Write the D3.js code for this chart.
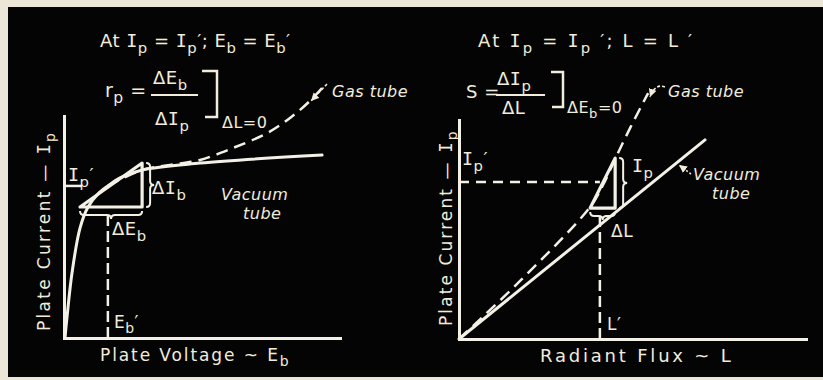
<!DOCTYPE html>
<html><head><meta charset="utf-8">
<script src="https://cdn.jsdelivr.net/npm/d3@7"></script>
<style>html,body{margin:0;padding:0;background:#ece6d8;} svg{display:block}</style>
</head><body><svg id="chart" width="823" height="380"></svg>
<script>
// ---- Left panel: plate current vs plate voltage (arbitrary units) ----
const vacuumEb   = [0.4, 1.1, 2.9, 5.8, 8.7, 12.3, 15.9, 20.3, 28.3, 49.3, 93.5];
const vacuumIpEb = [0.5, 9.5, 29.3, 49.5, 59.0, 64.9, 68.5, 72.1, 75.7, 78.8, 82.4];
const gasEb      = [15.9, 28.3, 38.4, 49.3, 61.2, 73.6, 81.9, 89.1, 93.5];
const gasIpEb    = [68.5, 75.7, 77.9, 80.2, 85.6, 92.3, 99.1, 106.8, 112.6];
const opEb = 15.9, opIpEb = 68.5;            // operating point Eb', Ip'
const triEb = [5.8, 28.3], triIpEb = [59.0, 78.8];

// ---- Right panel: plate current vs radiant flux ----
const vacuumL   = [0, 70.9];
const vacuumIpL = [0, 90.9];
const gasL      = [0, 17.6, 37.8, 41.5, 45.0, 49.3, 54.5];
const gasIpL    = [0, 26.5, 60.3, 70.3, 82.2, 96.3, 112.3];
const opL = 40.6, opIpL = 71.7;              // operating point L', Ip'
const triL = [37.8, 45.0], triIpL = [59.8, 82.6];

const ink = "#f3f0e6", txt = "#f2ecda";
const FONT = "'DejaVu Sans', sans-serif";
const SERIF_I = "'DejaVu Sans Mono', monospace";   // lettered capital I with bars

const svg = d3.select("#chart");
svg.append("rect").attr("x", 8).attr("y", 7).attr("width", 815).attr("height", 370).attr("fill", "#040404");

const defs = svg.append("defs");
defs.append("marker").attr("id", "arr").attr("markerUnits", "userSpaceOnUse")
  .attr("markerWidth", 10).attr("markerHeight", 10).attr("refX", 8).attr("refY", 4)
  .attr("orient", "auto")
  .append("path").attr("d", "M0,0 L8,4 L0,8 Z").attr("fill", txt);

// Text with sub/superscripts: parts are strings or [string, "sub"|"sup"]
function rich(g, x, y, parts, o = {}) {
  const size = o.size || 18;
  const t = g.append("text").attr("x", x).attr("y", y)
    .attr("font-family", FONT).attr("font-size", size).attr("fill", txt)
    .attr("font-style", o.italic ? "italic" : "normal")
    .attr("letter-spacing", o.ls || 0.5)
    .attr("text-anchor", o.anchor || "start");
  if (o.transform) t.attr("transform", o.transform);
  let cur = 0;
  parts.forEach(p => {
    const [s, kind] = Array.isArray(p) ? p : [p, null];
    const off = kind === "sub" ? 0.32 * size : kind === "sup" ? -0.4 * size : 0;
    const segs = o.italic ? [s] : s.split(/(I)/).filter(d => d.length);
    segs.forEach((seg, i) => {
      const ts = t.append("tspan").attr("dy", i === 0 ? off - cur : 0)
        .attr("font-size", kind ? size * 0.82 : size).text(seg);
      if (seg === "I") ts.attr("font-family", SERIF_I).attr("font-size", size * 1.02);
    });
    cur = off;
  });
  return t;
}

// Curly braces
function vBrace(x, y1, y2, w) {
  const ym = (y1 + y2) / 2, h = w / 2;
  return `M${x},${y1} Q${x + h},${y1} ${x + h},${y1 + h} L${x + h},${ym - h} Q${x + h},${ym} ${x + w},${ym}` +
         ` Q${x + h},${ym} ${x + h},${ym + h} L${x + h},${y2 - h} Q${x + h},${y2} ${x},${y2}`;
}
function hBrace(x1, x2, y, w) {
  const xm = (x1 + x2) / 2, h = w / 2;
  return `M${x1},${y} Q${x1},${y + h} ${x1 + h},${y + h} L${xm - h},${y + h} Q${xm},${y + h} ${xm},${y + w}` +
         ` Q${xm},${y + h} ${xm + h},${y + h} L${x2 - h},${y + h} Q${x2},${y + h} ${x2},${y}`;
}

function panel(cfg) {
  const g = svg.append("g");
  const x = d3.scaleLinear([0, 100], cfg.xr);
  const y = d3.scaleLinear([0, 100], cfg.yr);

  // axes: bare lines, no ticks
  const ax = g.append("g").attr("transform", `translate(${cfg.xr[0]},0)`)
    .call(d3.axisLeft(y).tickValues([]).tickSizeOuter(0));
  const bx = g.append("g").attr("transform", `translate(0,${cfg.yr[0]})`)
    .call(d3.axisBottom(x).tickValues([]).tickSizeOuter(0));
  [ax, bx].forEach(a => a.select(".domain").attr("stroke", ink).attr("stroke-width", 3).attr("stroke-linecap", "square"));

  const line = d3.line().x(d => x(d[0])).y(d => y(d[1]));

  // reference dashes at the operating point
  g.append("path").attr("d", line([[0, cfg.opY], [cfg.opX, cfg.opY]]))
    .attr("fill", "none").attr("stroke", ink).attr("stroke-width", 2.5).attr("stroke-dasharray", cfg.hDash);
  g.append("path").attr("d", line([[cfg.opX, 0], [cfg.opX, cfg.vTop]]))
    .attr("fill", "none").attr("stroke", ink).attr("stroke-width", 2.5).attr("stroke-dasharray", "11,5");

  // vacuum tube (solid) and gas tube (dashed)
  const vac = d3.zip(cfg.vx, cfg.vy);
  g.append("path").attr("d", line.curve(cfg.vCurve)(vac))
    .attr("fill", "none").attr("stroke", ink).attr("stroke-width", 3).attr("stroke-linecap", "round");
  const gas = d3.zip(cfg.gx, cfg.gy);
  g.append("path").attr("d", line.curve(d3.curveCatmullRom.alpha(0.5))(gas))
    .attr("fill", "none").attr("stroke", ink).attr("stroke-width", 2.5).attr("stroke-dasharray", "12,7");

  // increment triangle
  const [tx0, tx1] = cfg.tx, [ty0, ty1] = cfg.ty;
  g.append("path").attr("d", d3.line().x(d => x(d[0])).y(d => y(d[1]))([[tx0, ty0], [tx1, ty0], [tx1, ty1]]) + "Z")
    .attr("fill", "none").attr("stroke", ink).attr("stroke-width", 3.2).attr("stroke-linejoin", "round");
  g.append("path").attr("d", vBrace(x(tx1) + 4, y(ty1), y(ty0), 8))
    .attr("fill", "none").attr("stroke", ink).attr("stroke-width", 2);
  g.append("path").attr("d", hBrace(x(tx0), x(tx1), y(ty0) + 4, 8))
    .attr("fill", "none").attr("stroke", ink).attr("stroke-width", 2);
  return { g, x, y };
}

// ---------------- Left panel ----------------
const L = panel({
  xr: [64, 340], yr: [338, 116],
  vx: vacuumEb, vy: vacuumIpEb, vCurve: d3.curveCatmullRom.alpha(0.5),
  gx: gasEb, gy: gasIpEb,
  opX: opEb, opY: opIpEb, vTop: 57, hDash: "18,60",
  tx: triEb, ty: triIpEb
});
rich(L.g, 100, 47, ["At  I", ["p", "sub"], " = I", ["p", "sub"], "′;  E", ["b", "sub"], " = E", ["b", "sub"], "′"], { size: 18 });
rich(L.g, 105, 97, ["r", ["p", "sub"], " ="], { size: 19 });
rich(L.g, 153, 84, ["ΔE", ["b", "sub"]], { size: 18 });
L.g.append("line").attr("x1", 151).attr("x2", 198).attr("y1", 95).attr("y2", 95).attr("stroke", txt).attr("stroke-width", 2);
rich(L.g, 155, 125, ["ΔI", ["p", "sub"]], { size: 18 });
L.g.append("path").attr("d", "M202,71 H217 V117 H205").attr("fill", "none").attr("stroke", txt).attr("stroke-width", 2.5);
rich(L.g, 222, 128, ["ΔL=0"], { size: 16 });
rich(L.g, 68, 181, ["I", ["p", "sub"], "′"], { size: 18 });
rich(L.g, 152, 194, ["ΔI", ["b", "sub"]], { size: 18 });
rich(L.g, 112, 235, ["ΔE", ["b", "sub"]], { size: 18 });
rich(L.g, 114, 328, ["E", ["b", "sub"], "′"], { size: 17 });
rich(L.g, 332, 97, ["Gas tube"], { size: 16, italic: true });
L.g.append("path").attr("d", "M327,84 L311,101").attr("fill", "none").attr("stroke", txt)
  .attr("stroke-width", 1.6).attr("stroke-dasharray", "3,2").attr("marker-end", "url(#arr)");
rich(L.g, 221, 200, ["Vacuum"], { size: 16, italic: true });
rich(L.g, 243, 219, ["tube"], { size: 16, italic: true });
rich(L.g, 50, 331, ["Plate Current — I", ["p", "sub"]], { size: 17, ls: 2.3, transform: "rotate(-90 50 331)" });
rich(L.g, 100, 361, ["Plate Voltage ~ E", ["b", "sub"]], { size: 17, ls: 1.9 });

// ---------------- Right panel ----------------
const R = panel({
  xr: [459, 806], yr: [339, 120],
  vx: vacuumL, vy: vacuumIpL, vCurve: d3.curveLinear,
  gx: gasL, gy: gasIpL,
  opX: opL, opY: opIpL, vTop: 56, hDash: "10,7",
  tx: triL, ty: triIpL
});
rich(R.g, 478, 47, ["At  I", ["p", "sub"], " = I", ["p", "sub"], " ′;  L = L ′"], { size: 18, ls: 2.2 });
rich(R.g, 466, 98, ["S ="], { size: 18 });
rich(R.g, 497, 85, ["ΔI", ["p", "sub"]], { size: 18 });
R.g.append("line").attr("x1", 496).attr("x2", 545).attr("y1", 95).attr("y2", 95).attr("stroke", txt).attr("stroke-width", 2);
rich(R.g, 502, 114, ["ΔL"], { size: 18 });
R.g.append("path").attr("d", "M551,72 H563 V107 H552").attr("fill", "none").attr("stroke", txt).attr("stroke-width", 2.5);
rich(R.g, 567, 113, ["ΔE", ["b", "sub"], "=0"], { size: 16 });
rich(R.g, 462, 165, ["I", ["p", "sub"], "′"], { size: 18 });
rich(R.g, 632, 172, ["I", ["p", "sub"]], { size: 18 });
rich(R.g, 611, 237, ["ΔL"], { size: 17 });
rich(R.g, 607, 330, ["L′"], { size: 17 });
rich(R.g, 668, 97, ["Gas tube"], { size: 16, italic: true });
R.g.append("path").attr("d", "M665,87 Q655,83 650,97").attr("fill", "none").attr("stroke", txt)
  .attr("stroke-width", 1.6).attr("stroke-dasharray", "3,2").attr("marker-end", "url(#arr)");
rich(R.g, 693, 180, ["Vacuum"], { size: 16, italic: true });
rich(R.g, 712, 199, ["tube"], { size: 16, italic: true });
R.g.append("path").attr("d", "M691,174 L679,165").attr("fill", "none").attr("stroke", txt)
  .attr("stroke-width", 1.6).attr("stroke-dasharray", "2,2").attr("marker-end", "url(#arr)");
rich(R.g, 452, 326, ["Plate Current — I", ["p", "sub"]], { size: 17, ls: 2.1, transform: "rotate(-90 452 326)" });
rich(R.g, 540, 362, ["Radiant Flux ~ L"], { size: 18, ls: 2.8 });
</script>
</body></html>
